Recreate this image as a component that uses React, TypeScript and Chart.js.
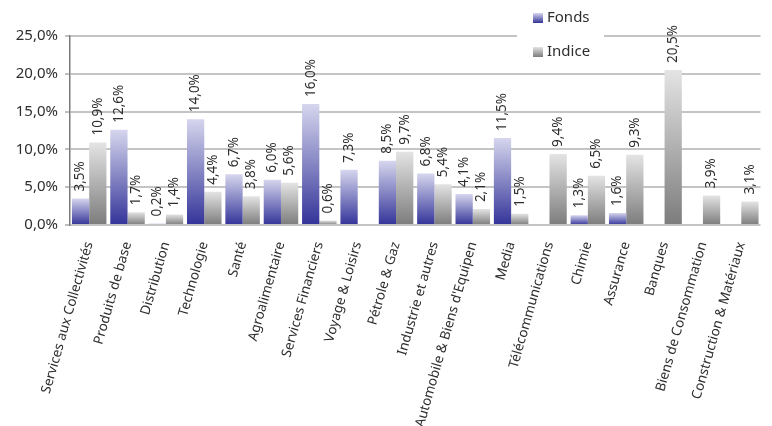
import React, { useEffect, useRef } from "react";
import { Chart, registerables } from "chart.js";

Chart.register(...registerables);

const categories = [
  "Services aux Collectivités",
  "Produits de base",
  "Distribution",
  "Technologie",
  "Santé",
  "Agroalimentaire",
  "Services Financiers",
  "Voyage & Loisirs",
  "Pétrole & Gaz",
  "Industrie et autres",
  "Automobile & Biens d'Equipen",
  "Media",
  "Télécommunications",
  "Chimie",
  "Assurance",
  "Banques",
  "Biens de Consommation",
  "Construction & Matériaux",
];

const fonds: (number | null)[] = [3.5, 12.6, 0.2, 14.0, 6.7, 6.0, 16.0, 7.3, 8.5, 6.8, 4.1, 11.5, null, 1.3, 1.6, null, null, null];
const indice: (number | null)[] = [10.9, 1.7, 1.4, 4.4, 3.8, 5.6, 0.6, null, 9.7, 5.4, 2.1, 1.5, 9.4, 6.5, 9.3, 20.5, 3.9, 3.1];

const yTicks = [0, 5, 10, 15, 20, 25];
const seriesNames = ["Fonds", "Indice"];

const FONT = "'Noto Sans', sans-serif";
const TEXT = "#2e2e2e";
const FONDS_TOP = "#d6d6ee";
const FONDS_BOTTOM = "#333399";
const INDICE_TOP = "#e4e4e4";
const INDICE_BOTTOM = "#7c7c7c";

const fmt = (v: number) => v.toFixed(1).replace(".", ",") + "%";

function barGradient(top: string, bottom: string) {
  return (ctx: any) => {
    const chart = ctx.chart;
    if (!chart.chartArea || ctx.type !== "data") return bottom;
    const v = ctx.raw;
    if (v == null) return bottom;
    const y = chart.scales.y;
    const yTop = y.getPixelForValue(v);
    const yBase = y.getPixelForValue(0);
    if (Math.abs(yBase - yTop) < 0.5) return top;
    const g = chart.ctx.createLinearGradient(0, yTop, 0, yBase);
    g.addColorStop(0, top);
    g.addColorStop(1, bottom);
    return g;
  };
}

const valueLabels = {
  id: "valueLabels",
  afterDatasetsDraw(chart: any) {
    const { ctx } = chart;
    ctx.save();
    ctx.font = `13.5px ${FONT}`;
    ctx.fillStyle = TEXT;
    ctx.textAlign = "left";
    ctx.textBaseline = "middle";
    chart.data.datasets.forEach((ds: any, di: number) => {
      const meta = chart.getDatasetMeta(di);
      meta.data.forEach((el: any, i: number) => {
        const v = ds.data[i];
        if (v == null) return;
        ctx.save();
        ctx.translate(el.x, el.y - 7);
        ctx.rotate(-Math.PI / 2);
        ctx.fillText(fmt(v), 0, 0);
        ctx.restore();
      });
    });
    ctx.restore();
  },
};

const customLegend = {
  id: "customLegend",
  afterDraw(chart: any) {
    const { ctx } = chart;
    ctx.save();
    ctx.fillStyle = "#ffffff";
    ctx.fillRect(517, 30, 87, 10);
    const items = [
      { name: seriesNames[0], top: FONDS_TOP, bottom: FONDS_BOTTOM, y: 13 },
      { name: seriesNames[1], top: INDICE_TOP, bottom: INDICE_BOTTOM, y: 47 },
    ];
    items.forEach((it) => {
      const g = ctx.createLinearGradient(0, it.y, 0, it.y + 10);
      g.addColorStop(0, it.top);
      g.addColorStop(1, it.bottom);
      ctx.fillStyle = g;
      ctx.fillRect(533, it.y, 10, 10);
      ctx.fillStyle = TEXT;
      ctx.font = `15px ${FONT}`;
      ctx.textAlign = "left";
      ctx.textBaseline = "middle";
      ctx.fillText(it.name, 547, it.y + 5);
    });
    ctx.restore();
  },
};

export default function App() {
  const ref = useRef<HTMLCanvasElement>(null);
  useEffect(() => {
    if (!ref.current) return;
    const chart = new Chart(ref.current, {
      type: "bar",
      data: {
        labels: categories,
        datasets: [
          {
            label: seriesNames[0],
            data: fonds,
            backgroundColor: barGradient(FONDS_TOP, FONDS_BOTTOM),
            categoryPercentage: 0.9,
            barPercentage: 1,
          },
          {
            label: seriesNames[1],
            data: indice,
            backgroundColor: barGradient(INDICE_TOP, INDICE_BOTTOM),
            categoryPercentage: 0.9,
            barPercentage: 1,
          },
        ],
      },
      options: {
        responsive: false,
        animation: false,
        layout: { padding: { top: 36, right: 5, left: 0, bottom: 0 } },
        plugins: {
          legend: { display: false },
          tooltip: { enabled: false },
        },
        scales: {
          x: {
            grid: { display: false, drawTicks: false },
            border: { display: false },
            ticks: {
              autoSkip: false,
              maxRotation: 74,
              minRotation: 74,
              padding: 15,
              color: TEXT,
              font: { family: FONT, size: 13.5 },
            },
            afterFit: (s: any) => {
              s.height = 201;
            },
          },
          y: {
            min: 0,
            max: 25,
            afterBuildTicks: (s: any) => {
              s.ticks = yTicks.map((v) => ({ value: v }));
            },
            grid: {
              color: "#c4c4c4",
              lineWidth: 2,
              tickLength: 5,
              tickColor: "#808080",
              tickWidth: 1,
            },
            border: { display: true, color: "#7a7a7a", width: 1.5 },
            ticks: {
              padding: 7,
              color: TEXT,
              font: { family: FONT, size: 15 },
              callback: (v: any) => fmt(Number(v)),
            },
            afterFit: (s: any) => {
              s.width = 70;
            },
          },
        },
      },
      plugins: [valueLabels, customLegend],
    });
    return () => chart.destroy();
  }, []);
  return (
    <div style={{ position: "absolute", left: 0, top: 0, width: 772, height: 426, background: "#fff" }}>
      <canvas ref={ref} width={772} height={426} style={{ display: "block" }} />
    </div>
  );
}
